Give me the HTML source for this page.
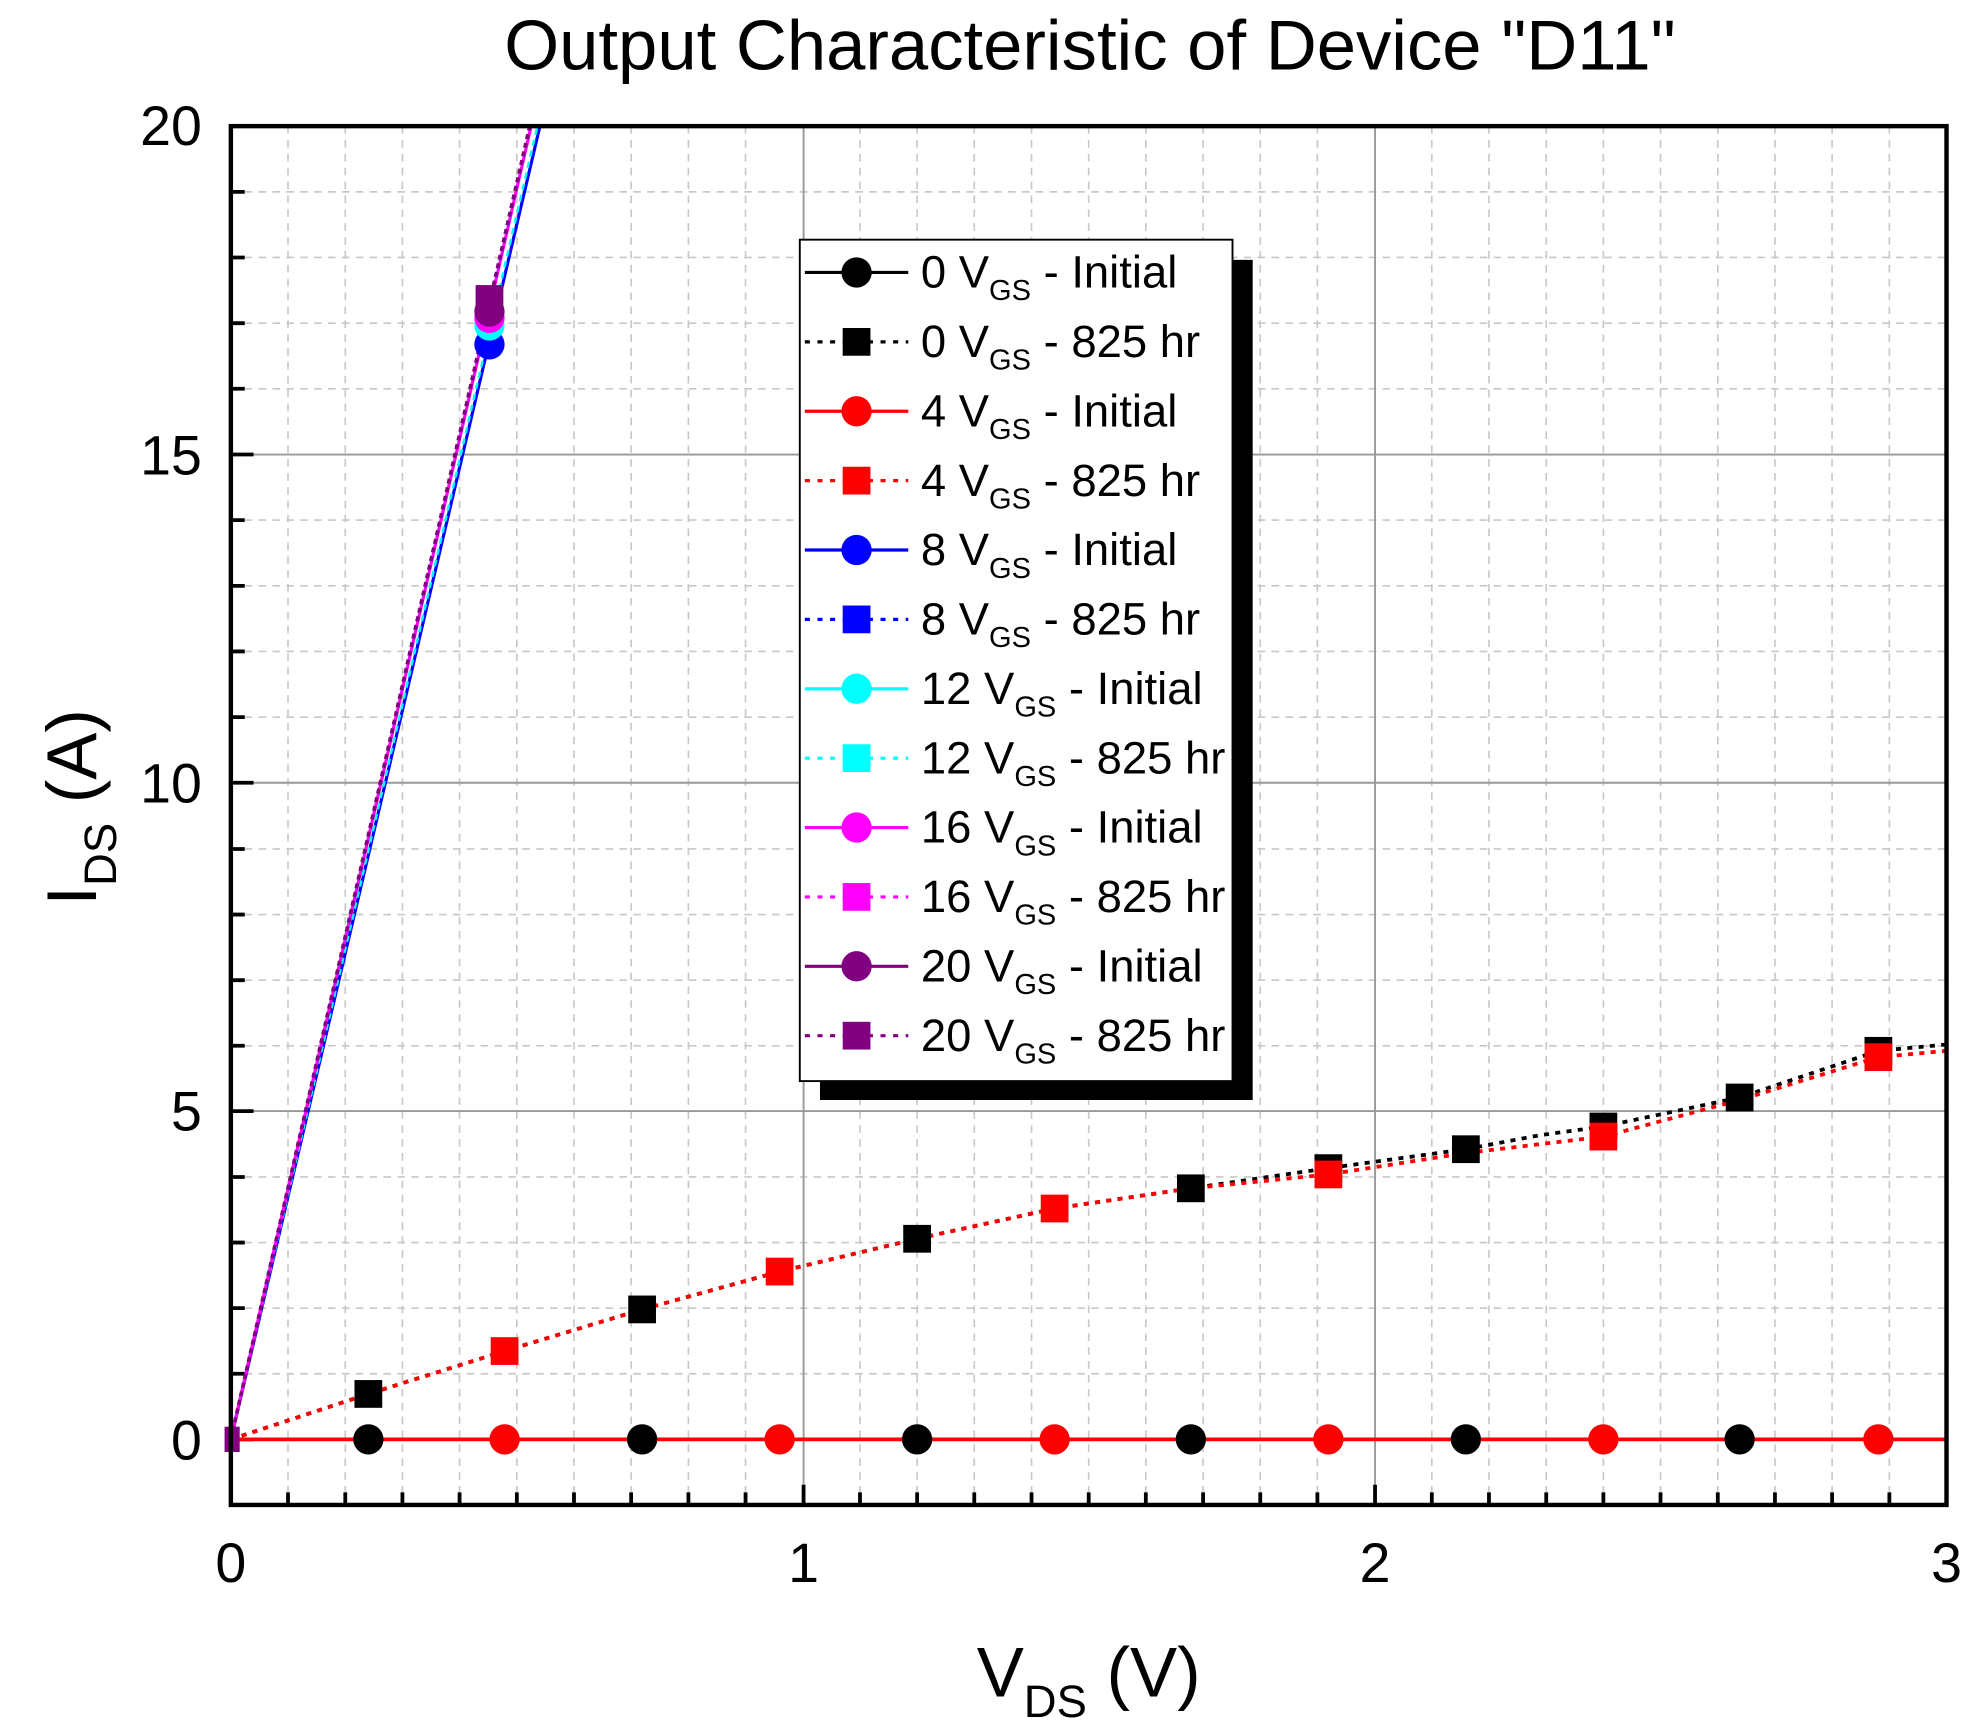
<!DOCTYPE html>
<html><head><meta charset="utf-8"><style>
html,body{margin:0;padding:0;background:#fff}
svg{display:block}
text{font-family:"Liberation Sans",Arial,sans-serif;fill:#000}
</style></head><body>
<svg width="1973" height="1730" viewBox="0 0 1564 1371.4" preserveAspectRatio="none">
<rect width="1564" height="1372" fill="#fff"/>
<text x="864" y="55" font-size="56" text-anchor="middle">Output Characteristic of Device "D11"</text>
<path stroke="#c8c8c8" stroke-width="1.3" stroke-dasharray="6,5" fill="none" d="
M228.3 100V1193M273.7 100V1193M319 100V1193M364.3 100V1193M409.7 100V1193M455 100V1193M500.3 100V1193M545.7 100V1193M591 100V1193
M681.7 100V1193M727 100V1193M772.3 100V1193M817.7 100V1193M863 100V1193M908.3 100V1193M953.7 100V1193M999 100V1193M1044.3 100V1193
M1135 100V1193M1180.3 100V1193M1225.7 100V1193M1271 100V1193M1316.3 100V1193M1361.7 100V1193M1407 100V1193M1452.3 100V1193M1497.7 100V1193
M183 1089H1543M183 1037H1543M183 985H1543M183 933H1543M183 829H1543M183 777H1543M183 725H1543M183 673H1543
M183 568.5H1543M183 516.4H1543M183 464.4H1543M183 412.3H1543M183 308.2H1543M183 256.2H1543M183 204.1H1543M183 152.1H1543"/>
<path stroke="#999" stroke-width="1.5" fill="none" d="M637 100V1193M1090 100V1193M183 880.8H1543M183 620.5H1543M183 360.3H1543"/>
<path stroke="#000" stroke-width="3" fill="none" d="
M228.3 1193v-10M273.7 1193v-10M319 1193v-10M364.3 1193v-10M409.7 1193v-10M455 1193v-10M500.3 1193v-10M545.7 1193v-10M591 1193v-10M637 1193v-16
M681.7 1193v-10M727 1193v-10M772.3 1193v-10M817.7 1193v-10M863 1193v-10M908.3 1193v-10M953.7 1193v-10M999 1193v-10M1044.3 1193v-10M1090 1193v-16
M1135 1193v-10M1180.3 1193v-10M1225.7 1193v-10M1271 1193v-10M1316.3 1193v-10M1361.7 1193v-10M1407 1193v-10M1452.3 1193v-10M1497.7 1193v-10
M183 1141h18M183 1089h11M183 1037h11M183 985h11M183 933h11M183 880.8h18M183 829h11M183 777h11M183 725h11M183 673h11M183 620.5h18
M183 568.5h11M183 516.4h11M183 464.4h11M183 412.3h11M183 360.3h18M183 308.2h11M183 256.2h11M183 204.1h11M183 152.1h11"/>
<path d="M183 1141L428 100" stroke="#0000ff" stroke-width="2.5" fill="none"/>
<path d="M183 1141L426 100" stroke="#00ffff" stroke-width="2" fill="none" stroke-dasharray="5,4"/>
<path d="M183 1141L421 100" stroke="#ff00ff" stroke-width="2.5" fill="none"/>
<path d="M183 1141L420 100" stroke="#800080" stroke-width="3" fill="none" stroke-dasharray="4,3"/>
<circle cx="388" cy="273" r="12" fill="#0000ff"/>
<circle cx="388" cy="258" r="12" fill="#00ffff"/>
<circle cx="388" cy="252" r="12" fill="#ff00ff"/>
<circle cx="388" cy="247" r="12" fill="#800080"/>
<rect x="377" y="226" width="22" height="22" fill="#800080"/>
<polyline fill="none" stroke="#000" stroke-width="3" stroke-dasharray="4,5" points="183,1141 292,1105 400,1071 509,1038 618,1008 727,982 836,958 944,942 1053,926 1162,911 1220,900 1271,893 1379,870 1489,833 1543,828"/>
<polyline fill="none" stroke="#ff0000" stroke-width="3" stroke-dasharray="4,5" points="183,1141 292,1105 400,1071 509,1038 618,1008 727,982 836,958 944,942 1053,931 1162,914 1271,901 1379,872 1489,838 1543,833"/>
<g fill="#000">
<rect x="281" y="1094" width="22" height="22"/><rect x="498" y="1027" width="22" height="22"/><rect x="716" y="971" width="22" height="22"/><rect x="933" y="931" width="22" height="22"/><rect x="1042" y="915" width="22" height="22"/><rect x="1151" y="900" width="22" height="22"/><rect x="1260" y="882" width="22" height="22"/><rect x="1368" y="859" width="22" height="22"/><rect x="1478" y="822" width="22" height="22"/>
</g>
<g fill="#ff0000">
<rect x="389" y="1060" width="22" height="22"/><rect x="607" y="997" width="22" height="22"/><rect x="825" y="947" width="22" height="22"/><rect x="1042" y="920" width="22" height="22"/><rect x="1260" y="890" width="22" height="22"/><rect x="1478" y="827" width="22" height="22"/>
</g>
<line x1="183" y1="1141" x2="1543" y2="1141" stroke="#ff0000" stroke-width="3"/>
<g fill="#000"><circle cx="292" cy="1141" r="12"/><circle cx="509" cy="1141" r="12"/><circle cx="727" cy="1141" r="12"/><circle cx="944" cy="1141" r="12"/><circle cx="1162" cy="1141" r="12"/><circle cx="1379" cy="1141" r="12"/></g>
<g fill="#ff0000"><circle cx="400" cy="1141" r="12"/><circle cx="618" cy="1141" r="12"/><circle cx="836" cy="1141" r="12"/><circle cx="1053" cy="1141" r="12"/><circle cx="1271" cy="1141" r="12"/><circle cx="1489" cy="1141" r="12"/></g>
<rect x="178" y="1131" width="12" height="20" fill="#800080"/>
<rect x="183" y="100" width="1360" height="1093" fill="none" stroke="#000" stroke-width="3.5"/>
<g font-size="44" text-anchor="end">
<text x="160" y="115">20</text><text x="160" y="376">15</text><text x="160" y="636">10</text><text x="160" y="896">5</text><text x="160" y="1157">0</text>
</g>
<g font-size="44" text-anchor="middle">
<text x="183" y="1254">0</text><text x="637" y="1254">1</text><text x="1090" y="1254">2</text><text x="1543" y="1254">3</text>
</g>
<text x="863" y="1345" font-size="56" text-anchor="middle">V<tspan font-size="36" dy="16">DS</tspan><tspan dy="-16"> (V)</tspan></text>
<text transform="translate(76,640) rotate(-90)" font-size="56" text-anchor="middle">I<tspan font-size="36" dy="16">DS</tspan><tspan dy="-16"> (A)</tspan></text>
<rect x="650" y="206" width="343" height="666" fill="#000"/>
<rect x="634" y="190" width="343" height="667" fill="#fff" stroke="#000" stroke-width="1.5"/>
<g font-size="36">
<g transform="translate(0,216)"><line x1="638" x2="720" y1="0" y2="0" stroke="#000" stroke-width="2.5"/><circle cx="679" cy="0" r="12" fill="#000"/><text x="730" y="12">0 V<tspan font-size="23" dy="10">GS</tspan><tspan dy="-10"> - Initial</tspan></text></g>
<g transform="translate(0,271)"><line x1="638" x2="720" y1="0" y2="0" stroke="#000" stroke-width="2.5" stroke-dasharray="4,6"/><rect x="668" y="-11" width="22" height="22" fill="#000"/><text x="730" y="12">0 V<tspan font-size="23" dy="10">GS</tspan><tspan dy="-10"> - 825 hr</tspan></text></g>
<g transform="translate(0,326)"><line x1="638" x2="720" y1="0" y2="0" stroke="#f00" stroke-width="2.5"/><circle cx="679" cy="0" r="12" fill="#f00"/><text x="730" y="12">4 V<tspan font-size="23" dy="10">GS</tspan><tspan dy="-10"> - Initial</tspan></text></g>
<g transform="translate(0,381)"><line x1="638" x2="720" y1="0" y2="0" stroke="#f00" stroke-width="2.5" stroke-dasharray="4,6"/><rect x="668" y="-11" width="22" height="22" fill="#f00"/><text x="730" y="12">4 V<tspan font-size="23" dy="10">GS</tspan><tspan dy="-10"> - 825 hr</tspan></text></g>
<g transform="translate(0,436)"><line x1="638" x2="720" y1="0" y2="0" stroke="#00f" stroke-width="2.5"/><circle cx="679" cy="0" r="12" fill="#00f"/><text x="730" y="12">8 V<tspan font-size="23" dy="10">GS</tspan><tspan dy="-10"> - Initial</tspan></text></g>
<g transform="translate(0,491)"><line x1="638" x2="720" y1="0" y2="0" stroke="#00f" stroke-width="2.5" stroke-dasharray="4,6"/><rect x="668" y="-11" width="22" height="22" fill="#00f"/><text x="730" y="12">8 V<tspan font-size="23" dy="10">GS</tspan><tspan dy="-10"> - 825 hr</tspan></text></g>
<g transform="translate(0,546)"><line x1="638" x2="720" y1="0" y2="0" stroke="#0ff" stroke-width="2.5"/><circle cx="679" cy="0" r="12" fill="#0ff"/><text x="730" y="12">12 V<tspan font-size="23" dy="10">GS</tspan><tspan dy="-10"> - Initial</tspan></text></g>
<g transform="translate(0,601)"><line x1="638" x2="720" y1="0" y2="0" stroke="#0ff" stroke-width="2.5" stroke-dasharray="4,6"/><rect x="668" y="-11" width="22" height="22" fill="#0ff"/><text x="730" y="12">12 V<tspan font-size="23" dy="10">GS</tspan><tspan dy="-10"> - 825 hr</tspan></text></g>
<g transform="translate(0,656)"><line x1="638" x2="720" y1="0" y2="0" stroke="#f0f" stroke-width="2.5"/><circle cx="679" cy="0" r="12" fill="#f0f"/><text x="730" y="12">16 V<tspan font-size="23" dy="10">GS</tspan><tspan dy="-10"> - Initial</tspan></text></g>
<g transform="translate(0,711)"><line x1="638" x2="720" y1="0" y2="0" stroke="#f0f" stroke-width="2.5" stroke-dasharray="4,6"/><rect x="668" y="-11" width="22" height="22" fill="#f0f"/><text x="730" y="12">16 V<tspan font-size="23" dy="10">GS</tspan><tspan dy="-10"> - 825 hr</tspan></text></g>
<g transform="translate(0,766)"><line x1="638" x2="720" y1="0" y2="0" stroke="#800080" stroke-width="2.5"/><circle cx="679" cy="0" r="12" fill="#800080"/><text x="730" y="12">20 V<tspan font-size="23" dy="10">GS</tspan><tspan dy="-10"> - Initial</tspan></text></g>
<g transform="translate(0,821)"><line x1="638" x2="720" y1="0" y2="0" stroke="#800080" stroke-width="2.5" stroke-dasharray="4,6"/><rect x="668" y="-11" width="22" height="22" fill="#800080"/><text x="730" y="12">20 V<tspan font-size="23" dy="10">GS</tspan><tspan dy="-10"> - 825 hr</tspan></text></g>
</g>
</svg>
</body></html>
